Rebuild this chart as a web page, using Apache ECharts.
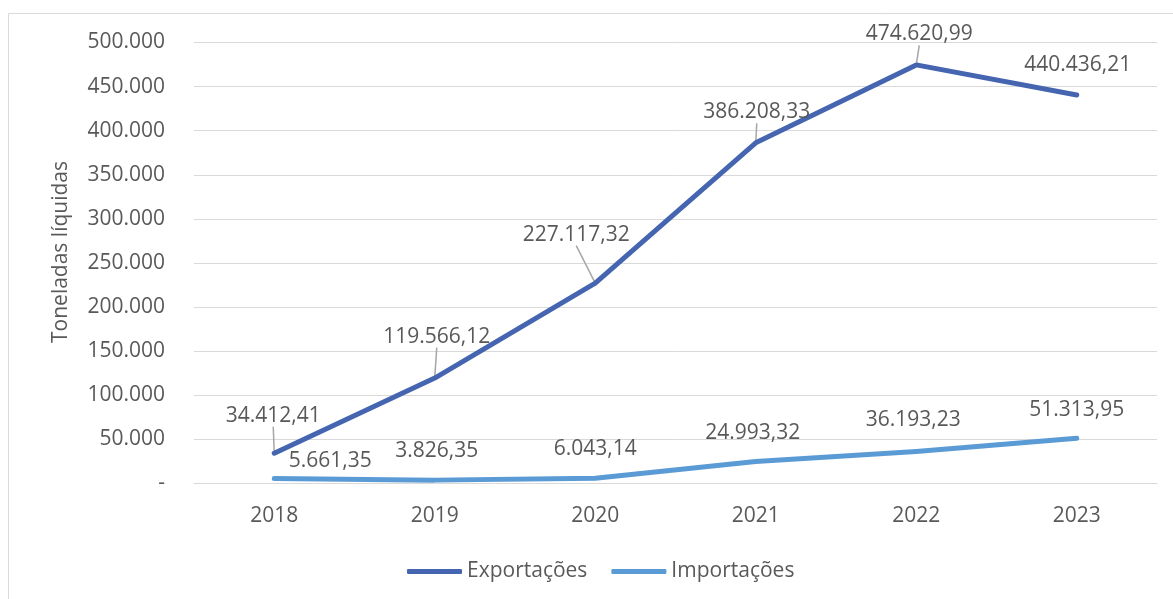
<!DOCTYPE html>
<html>
<head>
<meta charset="utf-8">
<script src="https://cdn.jsdelivr.net/npm/echarts@6/dist/echarts.min.js"></script>
<style>
html,body{margin:0;padding:0;background:#fff;}
#chart{width:1173px;height:599px;}
</style>
</head>
<body>
<div id="chart"></div>
<script>
const categories = ['2018','2019','2020','2021','2022','2023'];
const exportacoes = [34412.41, 119566.12, 227117.32, 386208.33, 474620.99, 440436.21];
const importacoes = [5661.35, 3826.35, 6043.14, 24993.32, 36193.23, 51313.95];
const yTicks = [0, 50000, 100000, 150000, 200000, 250000, 300000, 350000, 400000, 450000, 500000];

// label offsets (layout only)
const expOffsets = [[-1,-22],[2,-26],[-19,-33],[1,-15],[3,-15],[1,-15]];
const impOffsets = [[56,-2],[2,-14],[0,-14],[-3,-13],[-3,-16],[0,-13]];
const expLeader = [true, true, true, true, true, false];

const FONT = 'Open Sans';
const TXT = '#595959';
const FS = 21;
const C_EXP = '#4565B0';
const C_IMP = '#5B9BD5';
const LABEL_H = 24;

function fmtThousands(n){
  return String(Math.round(n)).replace(/\B(?=(\d{3})+(?!\d))/g,'.');
}
function fmtBR(n){
  const s = n.toFixed(2).split('.');
  return s[0].replace(/\B(?=(\d{3})+(?!\d))/g,'.') + ',' + s[1];
}

const chart = echarts.init(document.getElementById('chart'), null, {renderer:'canvas'});
chart.setOption({
  animation:false,
  backgroundColor:'#fff',
  graphic:[{type:'rect', shape:{x:8.5,y:13.5,width:1300,height:800}, style:{fill:'none',stroke:'#d9d9d9',lineWidth:1}, silent:true}],
  grid:{left:194, right:16, top:42.5, bottom:115.5},
  legend:{
    bottom:12, left:402,
    itemWidth:55, itemHeight:5, itemGap:24,
    icon:'roundRect',
    textStyle:{fontFamily:FONT, fontSize:FS, color:TXT},
    data:[{name:'Exportações', itemStyle:{color:C_EXP, opacity:1}},{name:'Importações', itemStyle:{color:C_IMP, opacity:1}}]
  },
  xAxis:{
    type:'category', data:categories, boundaryGap:true,
    axisLine:{show:true, lineStyle:{color:'#d9d9d9', width:1}},
    axisTick:{show:false},
    axisLabel:{fontFamily:FONT, fontSize:FS, color:TXT, margin:22}
  },
  yAxis:{
    type:'value', min:yTicks[0], max:yTicks[yTicks.length-1], interval:yTicks[1]-yTicks[0],
    name:'Toneladas líquidas', nameLocation:'middle', nameGap:122,
    nameTextStyle:{fontFamily:FONT, fontSize:FS, color:TXT, padding:[0,0,0,22]},
    axisLine:{show:false}, axisTick:{show:false},
    splitLine:{lineStyle:{color:'#d9d9d9', width:1}},
    axisLabel:{fontFamily:FONT, fontSize:FS, color:TXT, margin:29,
      formatter:v => v === 0 ? '-' : fmtThousands(v)}
  },
  series:[
    {
      name:'Leader', type:'custom', z:1, silent:true,
      data:exportacoes.map((v,i) => [i, v]),
      renderItem:(params, api) => {
        const i = api.value(0);
        if (!expLeader[i]) return null;
        const p = api.coord([i, api.value(1)]);
        const off = expOffsets[i];
        const cx = p[0] + off[0];
        const cy = p[1] - 5 - LABEL_H/2 + off[1];
        const ex = cx, ey = cy + 12.5;
        const dx = ex - p[0], dy = ey - p[1];
        const len = Math.sqrt(dx*dx + dy*dy) || 1;
        const sx = p[0] + dx/len*2, sy = p[1] + dy/len*2;
        return {type:'line', shape:{x1:sx, y1:sy, x2:ex, y2:ey},
          style:{stroke:'#a6a6a6', lineWidth:1.5}};
      }
    },
    {
      name:'Exportações', type:'line', data:exportacoes, smooth:false,
      symbol:'circle', symbolSize:0, showSymbol:true,
      itemStyle:{color:C_EXP},
      color:C_EXP,
      lineStyle:{width:5, color:C_EXP, cap:'round', join:'round'},
      label:{show:true, position:'top', distance:5, fontFamily:FONT, fontSize:FS, color:TXT,
        formatter:p => fmtBR(p.value)},
      labelLine:{show:false},
      labelLayout:p => ({dx:expOffsets[p.dataIndex][0], dy:expOffsets[p.dataIndex][1]}),
      z:3
    },
    {
      name:'Importações', type:'line', data:importacoes, smooth:false,
      symbol:'circle', symbolSize:0, showSymbol:true,
      itemStyle:{color:C_IMP},
      color:C_IMP,
      lineStyle:{width:5, color:C_IMP, cap:'round', join:'round'},
      label:{show:true, position:'top', distance:5, fontFamily:FONT, fontSize:FS, color:TXT,
        formatter:p => fmtBR(p.value)},
      labelLine:{show:false},
      labelLayout:p => ({dx:impOffsets[p.dataIndex][0], dy:impOffsets[p.dataIndex][1]}),
      z:2
    }
  ]
});
</script>
</body>
</html>
